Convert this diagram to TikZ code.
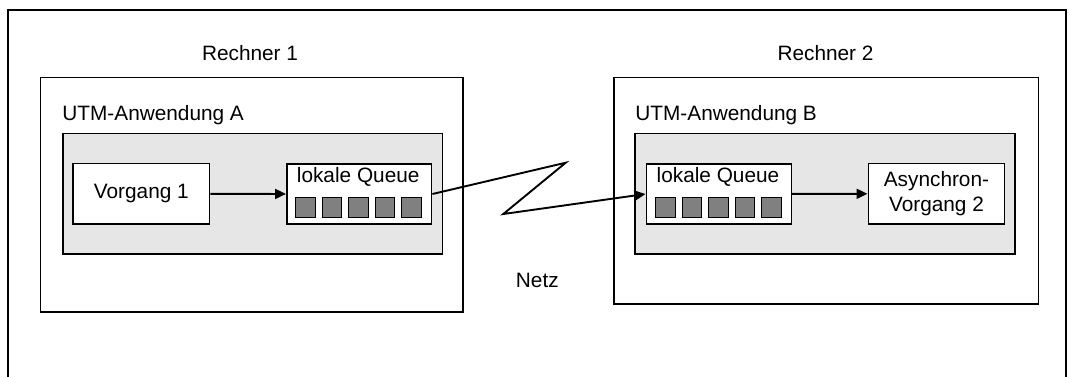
\documentclass[tikz,border=0pt]{standalone}
\usepackage{fontspec}
\setmainfont{Liberation Sans}
\usetikzlibrary{arrows.meta,positioning}
\definecolor{appgray}{RGB}{230,230,230}
\definecolor{slotgray}{RGB}{128,128,128}
\begin{document}
\begin{tikzpicture}[x=0.5pt,y=-0.5pt,line join=miter,
  every node/.style={font=\fontsize{10.4}{12.2}\selectfont},
  box/.style={draw,line width=0.85pt,fill=white,inner sep=0pt,anchor=north west},
  appbox/.style={box,fill=appgray},
  slot/.style={draw,line width=0.45pt,fill=slotgray,inner sep=0pt,
    minimum width=9.8pt,minimum height=9.8pt,anchor=north west},
  flow/.style={line width=0.95pt,-{Triangle[length=5.5pt,width=5pt]}}]
  \useasboundingbox (0,0) rectangle (1070,377);
  \draw[line width=0.85pt] (8.3,377) -- (8.3,10) -- (1066,10) -- (1066,377);
  % Rechner
  \node[box,minimum width=211.4pt,minimum height=117.25pt] (r1) at (39.5,76.5) {};
  \node[box,minimum width=212.2pt,minimum height=113.25pt] (r2) at (613.3,76.5) {};
  \node (r1lbl) at (250,53) {Rechner 1};
  \node (r2lbl) at (825.5,53) {Rechner 2};
  % UTM-Anwendungen
  \node[anchor=west,inner sep=0pt] (appAlbl) at (62,115) {UTM-Anwendung A};
  \node[anchor=west,inner sep=0pt] (appBlbl) at (635,115) {UTM-Anwendung B};
  \node[appbox,minimum width=189.85pt,minimum height=60.25pt] (appA) at (62,132.5) {};
  \node[appbox,minimum width=189.85pt,minimum height=60.25pt] (appB) at (634.3,132.5) {};
  % Vorgaenge und Queues
  \node[box,minimum width=68.2pt,minimum height=30.3pt] (v1) at (72.3,162.7) {Vorgang 1};
  \node[box,minimum width=68.1pt,minimum height=30.15pt,align=center] (v2) at (867.5,162.7)
    {Asynchron-\\Vorgang 2};
  \node[box,minimum width=72.35pt,minimum height=29.85pt] (qa) at (286,163.3) {};
  \node[box,minimum width=72.5pt,minimum height=29.85pt] (qb) at (645.5,163.3) {};
  \node (qalbl) at (358.2,177) {lokale Queue};
  \node (qblbl) at (718,177) {lokale Queue};
  \foreach \i in {0,...,4} {
    \node[slot] (qa\i) at (295.3+26.5*\i,197) {};
    \node[slot] (qb\i) at (655+26.5*\i,197) {};
  }
  % Netz
  \coordinate (zhi) at (565.7,162.7);
  \coordinate (zlo) at (503.3,214);
  \node (netz) at (537.3,280.7) {Netz};
  \draw[flow] (v1) -- (qa);
  \draw[flow] (qa.east) -- (zhi) -- (zlo) -- (qb.west);
  \draw[flow] (qb) -- (v2);
\end{tikzpicture}
\end{document}
